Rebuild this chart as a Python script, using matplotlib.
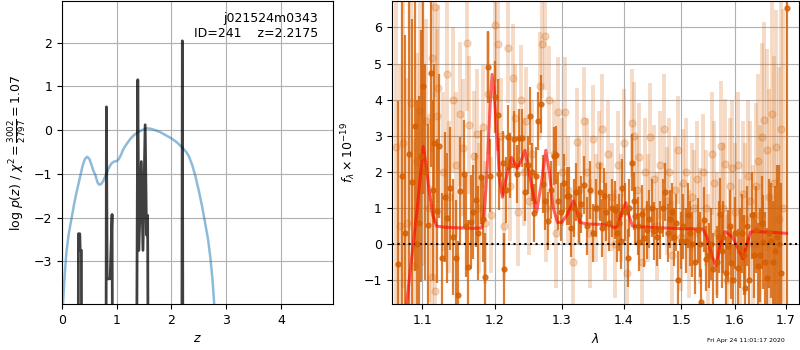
import matplotlib
matplotlib.use("Agg")
import matplotlib.pyplot as plt
import matplotlib.ticker as mticker
import numpy as np

# ---------------- left panel data ----------------
prior_z = [0.02, 0.05, 0.08, 0.12, 0.17, 0.22, 0.27, 0.325, 0.38, 0.42, 0.46, 0.50,
           0.54, 0.57, 0.61, 0.65, 0.68, 0.72, 0.75, 0.80, 0.85, 0.90, 0.95, 1.0,
           1.04, 1.08, 1.12, 1.18, 1.25, 1.32, 1.40, 1.48, 1.55, 1.62, 1.70, 1.80,
           1.90, 2.0, 2.1, 2.2, 2.27, 2.32, 2.38, 2.44, 2.50, 2.56, 2.62, 2.67,
           2.71, 2.75, 2.78, 2.80]
prior_logp = [-3.94, -3.3, -2.8, -2.4, -2.05, -1.7, -1.4, -1.1, -0.8, -0.66, -0.61, -0.66,
              -0.8, -0.92, -1.03, -1.2, -1.25, -1.23, -1.17, -1.03, -0.88, -0.77, -0.72, -0.71,
              -0.66, -0.56, -0.44, -0.32, -0.2, -0.11, -0.04, 0.01, 0.04, 0.03, 0.0, -0.05,
              -0.12, -0.19, -0.28, -0.4, -0.5, -0.6, -0.8, -1.06, -1.38, -1.74, -2.15, -2.5,
              -2.9, -3.4, -3.94, -4.3]

pz_z = [0.0, 0.295, 0.30, 0.325, 0.332, 0.355, 0.36,
        0.80, 0.812, 0.825, 0.88, 0.915, 0.935,
        1.35, 1.385, 1.405, 1.45, 1.48, 1.52, 1.545, 1.565, 1.585,
        2.185, 2.20, 2.215, 4.95]
pz_logp = [-10, -10, -2.37, -2.37, -2.75, -2.75, -10,
           -10, 0.53, -3.4, -3.4, -1.93, -10,
           -10, 1.15, -2.75, -0.72, -2.75, 0.12, -2.4, -1.95, -10,
           -10, 2.04, -10, -10]

left_xticks = [0, 1, 2, 3, 4]
left_yticks = [-3, -2, -1, 0, 1, 2]

# ---------------- right panel data ----------------
bin_wave = [1.068, 1.073, 1.078, 1.082, 1.086, 1.090, 1.093, 1.096, 1.098, 1.101,
            1.104, 1.108, 1.111, 1.114, 1.116, 1.119, 1.122, 1.1265, 1.130, 1.133,
            1.137, 1.141, 1.145, 1.148, 1.151, 1.156, 1.159, 1.1625, 1.166, 1.169,
            1.1725, 1.176, 1.180, 1.183, 1.186, 1.1896, 1.193, 1.1995, 1.2044, 1.2066,
            1.2115, 1.2137, 1.2165, 1.2195, 1.222, 1.2275, 1.232, 1.2355, 1.2395, 1.2445,
            1.248, 1.2515, 1.255, 1.258, 1.261, 1.264, 1.268, 1.2705, 1.275, 1.2795,
            1.284, 1.2875, 1.291, 1.295, 1.299, 1.303, 1.3078, 1.312, 1.315, 1.319,
            1.3227, 1.327, 1.331, 1.3353, 1.340, 1.3456, 1.350, 1.355, 1.361, 1.365,
            1.368, 1.371, 1.376, 1.381, 1.3856, 1.389, 1.393, 1.395, 1.398, 1.403,
            1.407, 1.410, 1.4137, 1.417, 1.420, 1.424, 1.427, 1.432, 1.435, 1.440,
            1.444, 1.448, 1.452, 1.457, 1.463, 1.467, 1.472, 1.476, 1.480, 1.484,
            1.488, 1.491, 1.495, 1.499, 1.503, 1.508, 1.512, 1.516, 1.520, 1.525,
            1.530, 1.535, 1.537, 1.542, 1.546, 1.551, 1.555, 1.558, 1.566, 1.569,
            1.572, 1.575, 1.578, 1.582, 1.586, 1.590, 1.593, 1.597, 1.600, 1.605,
            1.609, 1.613, 1.617, 1.620, 1.624, 1.627, 1.633, 1.637, 1.641, 1.645,
            1.648, 1.652, 1.655, 1.659, 1.662, 1.666, 1.670, 1.674, 1.678, 1.682,
            1.686, 1.690, 1.703]
bin_flux = [-0.55, 1.9, 0.3, 2.5, 1.73, 3.27, 0.0, 0.6, 2.44, 4.38,
            2.0, 0.53, 4.74, 1.5, 2.79, 0.92, 2.72, -0.39, 1.3, 0.72,
            1.55, 0.2, -0.38, -1.41, 1.47, 1.94, 0.5, -0.62, 0.62, 0.9,
            1.22, 0.3, 1.87, 0.7, -0.9, 4.91, 1.9, 4.08, 3.58, 1.94,
            2.24, -0.70, 1.5, 2.96, 2.19, 2.9, 1.95, 2.94, 2.94, 1.45,
            2.2, 3.55, 2.0, 0.87, 1.9, 3.41, 3.87, 1.67, 1.2, 0.64,
            1.5, 2.44, 2.47, 1.2, 0.9, 1.7, 1.33, 1.33, 0.44, 1.0,
            1.45, 0.8, 1.1, 1.64, 0.5, 1.5, 0.3, 1.0, 1.45, 0.45,
            1.32, 0.9, 0.6, 1.0, 0.95, 0.3, 0.6, 0.1, 1.55, 0.9,
            -0.39, 1.0, 2.26, 1.2, 0.79, 0.5, 0.05, 0.84, 0.18, 0.4,
            0.70, 1.0, 0.36, 0.2, 0.4, 1.0, 1.45, 0.3, 0.7, 0.9,
            0.2, 0.6, -0.99, 0.1, 0.5, 0.1, 0.8, 0.3, 0.0, -0.49,
            0.39, 0.0, -1.6, 0.68, -0.4, -0.3, 0.0, -0.7, -0.5, 0.2,
            0.84, -0.2, 0.2, -0.8, -0.05, 0.5, -0.52, -1.0, 0.3, -0.67,
            -0.1, 0.3, -0.3, -1.2, 0.5, -0.99, 0.8, -0.3, 0.4, -0.6,
            -0.3, 0.6, 0.07, -0.5, -0.94, 0.3, 0.1, -0.5, -0.2, 0.2,
            0.0, -0.8, 6.55]
bin_err = [4.5, 5.0, 5.5, 5.0, 4.5, 4.0, 4.0, 3.5, 3.5, 3.0,
           3.0, 2.8, 2.6, 2.5, 2.2, 2.0, 2.0, 1.8, 1.8, 1.8,
           1.7, 1.6, 1.6, 1.5, 1.5, 1.5, 1.4, 1.3, 1.3, 1.3,
           1.3, 1.3, 1.3, 1.2, 1.2, 1.0, 1.0, 1.0, 1.0, 1.0,
           0.9, 1.0, 0.9, 0.9, 0.9, 0.8, 0.8, 0.8, 0.8, 0.8,
           0.8, 0.8, 0.8, 0.8, 0.8, 0.8, 0.8, 0.8, 0.8, 0.8,
           0.8, 0.8, 0.8, 0.8, 0.8, 0.8, 0.8, 0.8, 0.8, 0.8,
           0.8, 0.8, 0.8, 0.8, 0.8, 0.8, 0.8, 0.8, 0.8, 0.8,
           0.8, 0.8, 0.8, 0.8, 0.8, 0.8, 0.8, 0.8, 0.8, 0.8,
           0.8, 0.8, 0.8, 0.8, 0.8, 0.8, 0.8, 0.8, 0.8, 0.8,
           0.8, 0.8, 0.8, 0.8, 0.8, 0.8, 0.8, 0.8, 0.8, 0.8,
           0.8, 0.8, 0.8, 0.8, 0.9, 0.9, 0.9, 0.9, 0.9, 0.9,
           0.9, 0.9, 0.9, 0.9, 0.9, 0.9, 1.0, 1.0, 1.0, 1.0,
           1.0, 1.0, 1.0, 1.0, 1.0, 1.0, 1.0, 1.0, 1.0, 1.1,
           1.1, 1.1, 1.1, 1.1, 1.1, 1.2, 1.2, 1.2, 1.2, 1.2,
           1.3, 1.3, 1.3, 1.4, 1.4, 1.5, 1.6, 1.7, 1.8, 2.0,
           2.2, 2.5, 12.0]

raw_wave = [1.066, 1.071, 1.075, 1.080, 1.085, 1.089, 1.093, 1.097, 1.101, 1.105,
            1.109, 1.1124, 1.113, 1.1168, 1.1175, 1.119, 1.121, 1.127, 1.1325, 1.136,
            1.1413, 1.145, 1.1507, 1.1555, 1.1605, 1.163, 1.1708, 1.174, 1.178, 1.183,
            1.186, 1.1906, 1.195, 1.1995, 1.205, 1.209, 1.213, 1.2195, 1.222, 1.2265,
            1.230, 1.234, 1.238, 1.242, 1.246, 1.250, 1.254, 1.2665, 1.2696, 1.2746,
            1.2803, 1.276, 1.288, 1.295, 1.291, 1.300, 1.305, 1.310, 1.318, 1.3235,
            1.328, 1.335, 1.340, 1.345, 1.350, 1.355, 1.360, 1.365, 1.370, 1.375,
            1.380, 1.385, 1.390, 1.395, 1.400, 1.405, 1.4135, 1.418, 1.422, 1.427,
            1.432, 1.437, 1.441, 1.445, 1.452, 1.457, 1.462, 1.470, 1.474, 1.479,
            1.484, 1.489, 1.494, 1.499, 1.504, 1.509, 1.514, 1.519, 1.524, 1.529,
            1.534, 1.540, 1.545, 1.550, 1.556, 1.560, 1.565, 1.573, 1.577, 1.581,
            1.585, 1.590, 1.595, 1.600, 1.605, 1.610, 1.615, 1.620, 1.625, 1.630,
            1.635, 1.640, 1.645, 1.649, 1.652, 1.657, 1.662, 1.667, 1.672, 1.677,
            1.681, 1.686, 1.690, 1.695]
raw_flux = [2.7, 0.5, 2.8, 0.6, 3.9, -0.6, 2.3, 3.7, 2.2, 3.42,
            1.0, 5.14, -0.9, 6.57, -1.3, 3.55, 4.33, 2.0, 4.72, 1.3,
            4.0, 2.2, 3.6, 2.67, 5.58, 3.3, 2.45, 3.05, 1.0, 3.25,
            0.6, 4.17, 0.8, 6.08, 5.53, 3.0, 0.5, 5.42, 1.6, 4.6,
            3.5, 0.9, 4.0, 2.0, 3.4, 1.2, 2.5, 4.37, 5.55, 5.76,
            3.99, 1.0, 2.5, 3.67, 0.3, 2.0, 3.67, 1.5, -0.5, 2.83,
            1.5, 3.41, 2.0, 0.3, 2.9, 1.0, 2.2, 3.2, 0.5, 2.5,
            1.3, 0.0, 2.2, 1.0, 2.8, -0.8, 3.36, 3.0, 1.5, 2.4,
            -0.5, 2.0, 1.0, 2.96, 1.8, 0.5, 2.2, 3.2, 1.2, 2.0,
            -0.3, 1.5, 2.6, 0.2, 1.7, 2.0, 0.0, 1.3, 1.0, 1.8,
            0.5, 2.0, 1.0, -0.2, 2.5, 1.7, 0.3, 2.72, 1.0, 2.22,
            -1.0, 1.6, 2.1, 0.9, 2.2, -0.2, 1.4, 0.7, 1.9, 1.2,
            0.0, 1.6, 2.3, 0.8, 2.97, 3.44, 2.6, 1.3, 3.6, 1.7,
            2.69, 0.7, 3.2, 1.0]
raw_err = [4.5, 4.5, 4.0, 4.0, 3.5, 3.5, 3.0, 3.0, 2.8, 2.8,
           2.6, 2.6, 2.5, 2.5, 2.4, 2.4, 2.3, 2.2, 2.2, 2.1,
           2.0, 2.0, 2.0, 1.9, 1.9, 1.9, 1.8, 1.8, 1.8, 1.7,
           1.7, 1.7, 1.6, 1.6, 1.6, 1.6, 1.5, 1.5, 1.5, 1.5,
           1.5, 1.5, 1.5, 1.5, 1.5, 1.5, 1.5, 1.5, 1.5, 1.5,
           1.5, 1.5, 1.5, 1.5, 1.5, 1.5, 1.5, 1.5, 1.5, 1.5,
           1.5, 1.5, 1.5, 1.5, 1.5, 1.5, 1.5, 1.5, 1.5, 1.5,
           1.5, 1.5, 1.5, 1.5, 1.5, 1.5, 1.5, 1.5, 1.5, 1.5,
           1.5, 1.5, 1.5, 1.5, 1.5, 1.5, 1.5, 1.5, 1.5, 1.5,
           1.5, 1.5, 1.5, 1.5, 1.5, 1.5, 1.5, 1.5, 1.6, 1.6,
           1.6, 1.6, 1.6, 1.6, 1.7, 1.7, 1.7, 1.8, 1.8, 1.8,
           1.8, 1.9, 1.9, 1.9, 2.0, 2.0, 2.0, 2.1, 2.1, 2.2,
           2.2, 2.3, 2.4, 2.5, 2.6, 2.7, 2.8, 3.0, 3.2, 3.5,
           3.8, 4.2, 4.8, 5.5]

model_wave = [1.076, 1.0796, 1.087, 1.0934, 1.098, 1.1013, 1.105, 1.109, 1.114, 1.119,
              1.130, 1.150, 1.170, 1.181, 1.184, 1.187, 1.190, 1.193, 1.196, 1.199,
              1.203, 1.207, 1.211, 1.216, 1.2243, 1.2325, 1.238, 1.244, 1.250, 1.2615,
              1.268, 1.2755, 1.281, 1.287, 1.2935, 1.300, 1.308, 1.3186, 1.324, 1.329,
              1.340, 1.360, 1.378, 1.385, 1.390, 1.397, 1.404, 1.409, 1.415, 1.450,
              1.500, 1.5397, 1.547, 1.556, 1.564, 1.572, 1.581, 1.595, 1.605, 1.6155,
              1.623, 1.630, 1.635, 1.670, 1.702]
model_flux = [-3.0, -1.66, -0.2, 1.0, 2.0, 2.7, 2.2, 1.5, 0.8, 0.5,
              0.47, 0.45, 0.44, 0.45, 0.7, 1.5, 2.5, 3.8, 4.7, 4.2,
              3.0, 1.8, 1.3, 1.8, 2.4, 2.1, 2.3, 2.6, 2.0, 0.9,
              1.6, 2.6, 2.0, 1.0, 0.6, 0.6, 0.8, 1.2, 0.9, 0.6,
              0.56, 0.55, 0.52, 0.45, 0.5, 0.9, 1.15, 0.8, 0.5, 0.46,
              0.43, 0.42, 0.2, -0.3, -0.6, 0.0, 0.35, 0.2, -0.1, -0.4,
              0.0, 0.33, 0.35, 0.33, 0.3]

right_xticks = [1.1, 1.2, 1.3, 1.4, 1.5, 1.6, 1.7]
right_yticks = [-1, 0, 1, 2, 3, 4, 5, 6]

orange = (0.8352941176470589, 0.3686274509803922, 0.0)

plt.rcParams['font.size'] = 9

fig = plt.figure(figsize=(8, 3.5), dpi=100)
ax1 = fig.add_axes([0.0775, 0.131, 0.3385, 0.866])
ax2 = fig.add_axes([0.4896, 0.131, 0.5094, 0.866])

# left panel
ax1.plot(prior_z, prior_logp, color='C0', alpha=0.5, lw=1.8)
ax1.plot(pz_z, pz_logp, color='k', alpha=0.75, lw=2)
ax1.set_xlim(0, 4.95)
ax1.set_ylim(-3.98, 2.95)
ax1.set_xticks(left_xticks)
ax1.set_yticks(left_yticks)
ax1.grid(True)
ax1.set_xlabel('$z$')
ax1.set_ylabel(r'log $p(z)$ / $\chi^2=\frac{3002}{2797}=1.07$')
ax1.text(0.945, 0.965, 'j021524m0343\nID=241    z=2.2175', transform=ax1.transAxes,
         ha='right', va='top', fontsize=9)

# right panel
ax2.errorbar(raw_wave, raw_flux, yerr=raw_err, color=orange, alpha=0.22,
             marker='o', ms=5, linestyle='None', elinewidth=2.8)
ax2.errorbar(bin_wave, bin_flux, yerr=bin_err, color=orange, alpha=0.8,
             marker='o', ms=3.5, linestyle='None', elinewidth=1.6)
ax2.plot(model_wave, model_flux, color='r', alpha=0.6, lw=2.2)
ax2.axhline(0, color='k', linestyle=':', lw=1.5)
ax2.set_xscale('log')
ax2.set_xlim(1.0604, 1.728)
ax2.set_ylim(-1.66, 6.73)
ax2.xaxis.set_major_locator(mticker.FixedLocator(right_xticks))
ax2.xaxis.set_major_formatter(mticker.FixedFormatter([f'{t:.1f}' for t in right_xticks]))
ax2.xaxis.set_minor_locator(mticker.NullLocator())
ax2.set_yticks(right_yticks)
ax2.grid(True)
ax2.set_xlabel(r'$\lambda$')
ax2.set_ylabel(r'$f_\lambda \times 10^{-19}$')

fig.text(0.981, 0.02, 'Fri Apr 24 11:01:17 2020', ha='right', va='bottom', fontsize=4.5)

fig.savefig('out.png', dpi=100)
